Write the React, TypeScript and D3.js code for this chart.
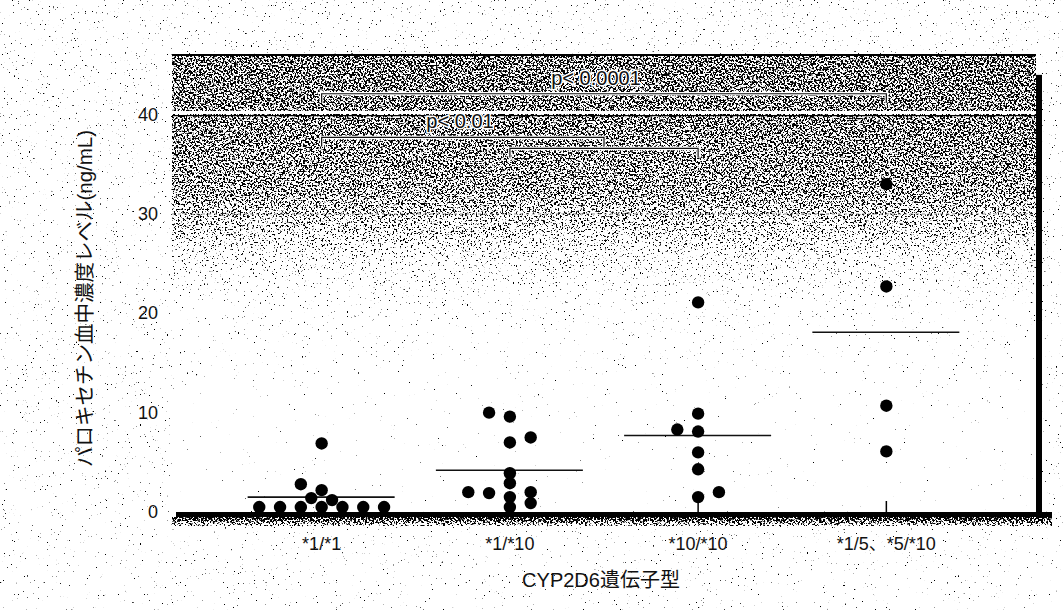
import React from "react";
import * as d3 from "d3";

const categories = ["*1/*1", "*1/*10", "*10/*10", "*1/5、*5/*10"];
// values (ng/mL) per genotype group
const g1Values = [0.5, 0.5, 0.5, 0.5, 0.5, 0.5, 0.5, 1.4, 1.2, 2.8, 2.2, 6.9];
const g1Slots = [-3, -2, -1, 0, 1, 2, 3, -0.5, 0.5, -1, 0, 0];
const g2Values = [10.0, 9.6, 7.0, 7.5, 2.0, 1.9, 3.9, 2.9, 1.5, 0.5, 2.0, 0.9];
const g2Slots = [-1, 0, 0, 1, -2, -1, 0, 0, 0, 0, 1, 1];
const g3Values = [21.1, 9.9, 8.3, 8.1, 6.0, 4.3, 1.5, 2.0];
const g3Slots = [0, 0, -1, 0, 0, 0, 0, 1];
const g4Values = [33.0, 22.7, 10.7, 6.1];
const g4Slots = [0, 0, 0, 0];
const groupMeans = [1.5, 4.2, 7.7, 18.1];
const yTicks = [0, 10, 20, 30, 40];
// significance brackets
const bracketFrom = [0, 0, 1];
const bracketTo = [3, 1.5, 2];
const bracketLevel = [42.1, 37.7, 36.6];
const bracketLabels = ["p< 0.0001", "p< 0.01", ""];

const W = 1063, H = 610;
const L = 172, R = 1036, T = 55, B = 512;

export default function App() {
  const x = d3.scalePoint<string>().domain(categories).range([L, R]).padding(0.795);
  const y = d3.scaleLinear().domain([0, 46]).range([B, T]);
  const step = x.step();
  const slotW = 20.8;
  const groups = [
    [g1Values, g1Slots],
    [g2Values, g2Slots],
    [g3Values, g3Slots],
    [g4Values, g4Slots],
  ];
  const cx = (i: number) => x(categories[0])! + i * step;
  const font = "'Liberation Sans', Arial, 'Noto Sans CJK JP', sans-serif";
  const g = (v: number) => {
    const c = Math.round(v * 255);
    return `rgb(${c},${c},${c})`;
  };

  return (
    <svg width={W} height={H} style={{ position: "absolute", left: 0, top: 0, background: "#fff" }}>
      <defs>
        <filter id="speck" x="0" y="0" width="100%" height="100%" colorInterpolationFilters="sRGB">
          <feTurbulence type="fractalNoise" baseFrequency="0.55" numOctaves="2" seed="7" result="n" />
          <feColorMatrix in="n" type="matrix" values="1 0 0 0 0  1 0 0 0 0  1 0 0 0 0  0 0 0 0 1" result="n2" />
          <feComposite in="n2" in2="SourceGraphic" operator="arithmetic" k1="0" k2="0.5" k3="0.5" k4="0" result="sum" />
          <feColorMatrix in="sum" type="matrix" values="0 0 0 0 0  0 0 0 0 0  0 0 0 0 0  30 0 0 0 -15" />
        </filter>
        <linearGradient id="plotDen" x1="0" y1="0" x2="0" y2="1">
          <stop offset="0" stopColor={g(0.53)} />
          <stop offset="0.12" stopColor={g(0.52)} />
          <stop offset="0.3" stopColor={g(0.49)} />
          <stop offset="0.38" stopColor={g(0.42)} />
          <stop offset="0.45" stopColor={g(0.34)} />
          <stop offset="0.54" stopColor={g(0.275)} />
          <stop offset="0.65" stopColor={g(0.25)} />
          <stop offset="0.76" stopColor={g(0.225)} />
          <stop offset="1" stopColor={g(0.2)} />
        </linearGradient>
        <linearGradient id="pageDen" x1="0" y1="0" x2="0" y2="1">
          <stop offset="0" stopColor={g(0.28)} />
          <stop offset="0.5" stopColor={g(0.27)} />
          <stop offset="1" stopColor={g(0.26)} />
        </linearGradient>
        <linearGradient id="axisDen" x1="0" y1="0" x2="0" y2="1">
          <stop offset="0" stopColor={g(0.62)} />
          <stop offset="1" stopColor={g(0.42)} />
        </linearGradient>
      </defs>

      {/* page speckle */}
      <rect x={0} y={0} width={W} height={H} fill="url(#pageDen)" filter="url(#speck)" />
      {/* plot area */}
      <rect x={L} y={T} width={R - L} height={B - T} fill="#fff" />
      <rect x={L} y={T} width={R - L} height={B - T} fill="url(#plotDen)" filter="url(#speck)" />

      {/* frame */}
      <line x1={L} x2={R} y1={T} y2={T} stroke="#000" strokeWidth={2} />
      <rect x={R} y={y(44)} width={6} height={B - y(44) + 6} fill="#000" />
      <rect x={L + 4} y={B} width={R - L + 12} height={5} fill="#000" />
      <rect x={L} y={B + 5} width={R - L + 16} height={9} fill="url(#axisDen)" filter="url(#speck)" />

      {/* reference lines at 40 and 30 */}
      <line x1={L} x2={R} y1={y(40) - 2} y2={y(40) - 2} stroke="#fff" strokeWidth={3} />
      <line x1={L} x2={R} y1={y(40) + 1} y2={y(40) + 1} stroke="#000" strokeWidth={1.2} />
      <line x1={L} x2={R} y1={y(30)} y2={y(30)} stroke="#555" strokeWidth={1} strokeDasharray="3 3" opacity={0.6} />

      {/* y tick labels */}
      {yTicks.map((t) => (
        <text key={t} x={158} y={y(t) + 6} textAnchor="end" fontFamily={font} fontSize={18} fill="#111">
          {t}
        </text>
      ))}
      <text
        transform={`translate(92,${(y(0) + y(46)) / 2 + 15}) rotate(-90)`}
        textAnchor="middle"
        fontFamily={font}
        fontSize={20.5}
        fill="#111"
      >
        パロキセチン血中濃度レベル(ng/mL)
      </text>

      {/* x ticks and labels */}
      {categories.map((c) => (
        <g key={c}>
          <line x1={x(c)!} x2={x(c)!} y1={B - 11} y2={B} stroke="#000" strokeWidth={1.5} />
          <text x={x(c)!} y={B + 38} textAnchor="middle" fontFamily={font} fontSize={18} fill="#111">
            {c}
          </text>
        </g>
      ))}
      <text x={601} y={587} textAnchor="middle" fontFamily={font} fontSize={20} fill="#111">
        CYP2D6遺伝子型
      </text>

      {/* mean lines */}
      {groupMeans.map((m, i) => (
        <line key={i} x1={cx(i) - 74} x2={cx(i) + 73} y1={y(m)} y2={y(m)} stroke="#111" strokeWidth={1.6} />
      ))}

      {/* dots */}
      {groups.map(([vals, slots], gi) =>
        (vals as number[]).map((v, k) => (
          <circle key={`${gi}-${k}`} cx={cx(gi) + (slots as number[])[k] * slotW} cy={y(v)} r={6.2} fill="#000" />
        ))
      )}

      {/* significance brackets */}
      {bracketLevel.map((lv, i) => {
        const x1 = cx(bracketFrom[i]);
        const x2 = cx(bracketTo[i]);
        const yy = y(lv);
        const drop = 9;
        const d = `M${x1},${yy + drop}V${yy}H${x2}V${yy + drop}`;
        return (
          <g key={i}>
            <path d={d} fill="none" stroke="#fff" strokeWidth={3.5} />
            <path d={d} fill="none" stroke="#111" strokeWidth={1.2} />
          </g>
        );
      })}
      <text x={596} y={y(bracketLevel[0]) - 9} textAnchor="middle" fontFamily={font} fontSize={20} fill="#111"
        stroke="#fff" strokeWidth={3} paintOrder="stroke">
        {bracketLabels[0]}
      </text>
      <text x={460} y={y(bracketLevel[1]) - 9} textAnchor="middle" fontFamily={font} fontSize={20} fill="#111"
        stroke="#fff" strokeWidth={3} paintOrder="stroke">
        {bracketLabels[1]}
      </text>
    </svg>
  );
}
